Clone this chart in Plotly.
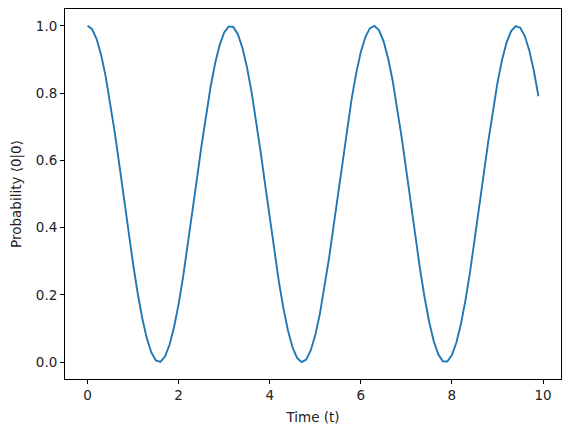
import plotly.graph_objects as go

time_t = [round(i * 0.1, 1) for i in range(100)]
probability = [
    1.0000, 0.9900, 0.9605, 0.9127, 0.8484, 0.7702, 0.6812, 0.5850, 0.4854, 0.3864,
    0.2919, 0.2057, 0.1313, 0.0716, 0.0289, 0.0050, 0.0009, 0.0166, 0.0516, 0.1045,
    0.1732, 0.2549, 0.3463, 0.4439, 0.5438, 0.6418, 0.7343, 0.8173, 0.8878, 0.9428,
    0.9801, 0.9983, 0.9966, 0.9751, 0.9347, 0.8770, 0.8042, 0.7193, 0.6256, 0.5270,
    0.4273, 0.3304, 0.2404, 0.1607, 0.0945, 0.0444, 0.0126, 0.0002, 0.0077, 0.0348,
    0.0805, 0.1429, 0.2195, 0.3073, 0.4028, 0.5022, 0.6015, 0.6967, 0.7841, 0.8602,
    0.9219, 0.9668, 0.9931, 0.9997, 0.9864, 0.9537, 0.9029, 0.8361, 0.7559, 0.6654,
    0.5684, 0.4686, 0.3701, 0.2768, 0.1923, 0.1202, 0.0631, 0.0235, 0.0029, 0.0021,
    0.0212, 0.0593, 0.1150, 0.1861, 0.2697, 0.3624, 0.4607, 0.5605, 0.6579, 0.7490,
    0.8302, 0.8982, 0.9503, 0.9845, 0.9994, 0.9944, 0.9696, 0.9262, 0.8657, 0.7907,
]
x_ticks = [0, 2, 4, 6, 8, 10]
y_ticks = [0.0, 0.2, 0.4, 0.6, 0.8, 1.0]

fig = go.Figure()
fig.add_trace(go.Scatter(x=time_t, y=probability, mode="lines",
                         line=dict(color="#1f77b4", width=1.9), showlegend=False))

axis_common = dict(showline=True, linecolor="black", linewidth=1, mirror=True,
                   ticks="outside", ticklen=4, tickwidth=1, tickcolor="black",
                   showgrid=False, zeroline=False, automargin=False,
                   tickfont=dict(family="DejaVu Sans", size=13.5, color="#222"))

fig.update_layout(
    width=571, height=432,
    margin=dict(l=65, r=10, t=9, b=53),
    paper_bgcolor="white", plot_bgcolor="white",
    font=dict(family="DejaVu Sans", size=13.5, color="#222"),
    xaxis=dict(range=[-0.495, 10.395], tickvals=x_ticks,
               title=dict(text="Time (t)", standoff=10, font=dict(size=13.5)),
               **axis_common),
    yaxis=dict(range=[-0.05, 1.05], tickvals=y_ticks, tickformat=".1f",
               title=dict(text="Probability ⟨0|0⟩", standoff=11, font=dict(size=13.5)),
               **axis_common),
)
fig.write_html("out.html",
               config={"displayModeBar": False},
               post_script="document.body.style.margin='0';document.body.style.padding='0';")
